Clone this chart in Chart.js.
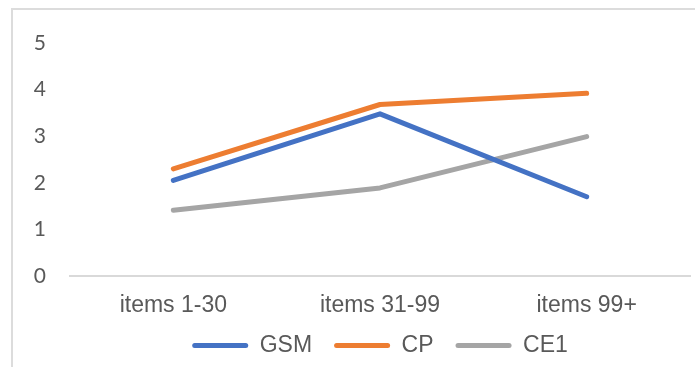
<!DOCTYPE html>
<html lang="en">
  <head>
    <meta charset="UTF-8" />
    <title>Scores by item range</title>
    <script src="https://cdn.jsdelivr.net/npm/chart.js"></script>
    <style>
      html,
      body {
        margin: 0;
        padding: 0;
        background: #fff;
        overflow: hidden;
      }
      #wrap {
        position: relative;
        width: 695px;
        height: 367px;
      }
      #frame {
        position: absolute;
        left: 11px;
        top: 8px;
        width: 720px;
        height: 400px;
        border: 2px solid #dcdcdc;
      }
      #scoreChart {
        position: absolute;
        left: 0;
        top: 0;
      }
    </style>
  </head>
  <body>
    <div id="wrap">
      <div id="frame"></div>
      <canvas id="scoreChart" width="695" height="367"></canvas>
    </div>

    <script>
      const categories = ["items 1-30", "items 31-99", "items 99+"];
      const gsm = [2.05, 3.48, 1.7];
      const cp = [2.3, 3.68, 3.92];
      const ce1 = [1.41, 1.89, 2.99];
      const yTicks = [0, 1, 2, 3, 4, 5];

      const textGrey = "#595959";

      const line = (label, data, color) => ({
        label,
        data,
        borderColor: color,
        backgroundColor: color,
        borderWidth: 5,
        borderCapStyle: "round",
        borderJoinStyle: "round",
        pointRadius: 0,
        pointHoverRadius: 0,
        tension: 0,
      });

      new Chart(document.getElementById("scoreChart"), {
        type: "line",
        data: {
          labels: categories,
          datasets: [
            line("GSM", gsm, "#4472C4"),
            line("CP", cp, "#ED7D31"),
            line("CE1", ce1, "#A5A5A5"),
          ],
        },
        options: {
          responsive: false,
          animation: false,
          devicePixelRatio: 1,
          layout: { padding: { top: 43, right: 5, bottom: 0, left: 0 } },
          scales: {
            x: {
              offset: true,
              grid: { display: false, drawTicks: false },
              border: { display: true, color: "#d9d9d9", width: 2 },
              ticks: {
                color: textGrey,
                padding: 16,
                maxRotation: 0,
                font: { family: "'Liberation Sans', Arial, sans-serif", size: 23 },
              },
              afterFit: (scale) => {
                scale.height = 36;
              },
            },
            y: {
              min: 0,
              max: 5,
              grid: { display: false, drawTicks: false },
              border: { display: false },
              afterBuildTicks: (scale) => {
                scale.ticks = yTicks.map((v) => ({ value: v }));
              },
              ticks: {
                color: textGrey,
                padding: 24,
                font: { family: "Lato, 'Open Sans', sans-serif", size: 21 },
              },
              afterFit: (scale) => {
                scale.width = 70;
              },
            },
          },
          plugins: {
            tooltip: { enabled: false },
            legend: {
              position: "bottom",
              fullSize: false,
              labels: {
                color: textGrey,
                boxWidth: 56,
                boxHeight: 5,
                padding: 22,
                useBorderRadius: true,
                borderRadius: 2.5,
                font: { family: "'Liberation Sans', Arial, sans-serif", size: 23 },
                // solid swatch in the series colour, no outline
                generateLabels: (chart) =>
                  Chart.defaults.plugins.legend.labels
                    .generateLabels(chart)
                    .map((item) => ({
                      ...item,
                      fillStyle: item.strokeStyle,
                      lineWidth: 0,
                    })),
              },
            },
          },
        },
      });
    </script>
  </body>
</html>
